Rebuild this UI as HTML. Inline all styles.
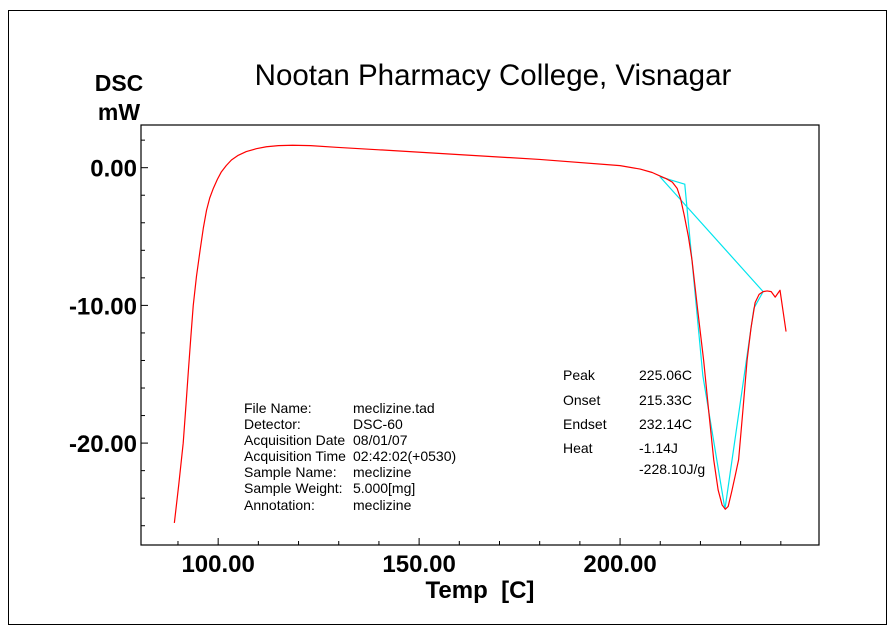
<!DOCTYPE html>
<html><head><meta charset="utf-8"><style>
body{margin:0;background:#fff;width:895px;height:630px;overflow:hidden}
svg{display:block;font-family:"Liberation Sans",sans-serif}
</style></head><body>
<svg id="chart" width="895" height="630" viewBox="0 0 895 630">
<rect x="8.5" y="10.5" width="878" height="614" fill="none" stroke="#000" stroke-width="1"/>
<text x="493" y="85" font-size="29.5" text-anchor="middle">Nootan Pharmacy College, Visnagar</text>
<text x="119" y="91" font-size="23" font-weight="bold" text-anchor="middle">DSC</text>
<text x="119" y="120" font-size="23" font-weight="bold" text-anchor="middle">mW</text>
<text x="480" y="598" font-size="24" font-weight="bold" text-anchor="middle">Temp&#160;&#160;[C]</text>
<rect x="141" y="125" width="678" height="420" fill="none" stroke="#000" stroke-width="1.2"/>
<g id="axes"></g>
<g id="series"></g>
<g font-size="14" fill="#000">
<text x="244" y="413">File Name:</text><text x="353" y="413">meclizine.tad</text>
<text x="244" y="429">Detector:</text><text x="353" y="429">DSC-60</text>
<text x="244" y="445">Acquisition Date</text><text x="353" y="445">08/01/07</text>
<text x="244" y="461">Acquisition Time</text><text x="353" y="461">02:42:02(+0530)</text>
<text x="244" y="477">Sample Name:</text><text x="353" y="477">meclizine</text>
<text x="244" y="493">Sample Weight:</text><text x="353" y="493">5.000[mg]</text>
<text x="244" y="510">Annotation:</text><text x="353" y="510">meclizine</text>
</g>
<g font-size="14" fill="#000">
<text x="563" y="380">Peak</text><text x="639" y="380">225.06C</text>
<text x="563" y="405">Onset</text><text x="639" y="405">215.33C</text>
<text x="563" y="429">Endset</text><text x="639" y="429">232.14C</text>
<text x="563" y="453">Heat</text><text x="639" y="453">-1.14J</text>
<text x="639" y="474">-228.10J/g</text>
</g>
</svg>
<script>
const xTicks=[100,150,200];
const xTickLabels=["100.00","150.00","200.00"];
const yTicks=[0,-10,-20];
const yTickLabels=["0.00","-10.00","-20.00"];
const dscTemp=[89.1,90.2,91.3,92.0,92.6,93.2,93.8,94.6,95.5,96.3,97.1,97.9,98.8,99.8,100.8,102,103.3,105,107,109.5,112,115,118.5,123,129.4,140,160,180,200,205,208,209.9,211.5,213,214.2,215.1,216,217,217.9,219.3,220.8,222.1,223.3,224.4,225.4,226.2,226.9,227.8,228.7,229.5,230.6,231.6,232.6,233.6,234.6,235.6,236.6,237.6,238.6,239.8,240.6,241.3];
const dscValue=[-25.8,-23.0,-20.0,-17.2,-14.7,-12.3,-10.0,-7.9,-6.0,-4.4,-3.1,-2.2,-1.5,-0.85,-0.3,0.15,0.56,0.9,1.17,1.38,1.52,1.6,1.63,1.6,1.48,1.3,0.95,0.6,0.15,-0.1,-0.35,-0.6,-0.8,-1.05,-1.5,-2.3,-3.5,-5.0,-6.7,-10.3,-14,-17.8,-21.2,-23.4,-24.5,-24.8,-24.6,-23.5,-22.3,-21.2,-17.5,-14,-11.6,-9.8,-9.2,-9.0,-8.95,-9.0,-9.4,-8.9,-10.5,-11.9];
const baseTemp=[209.9,216.1,220.6,226.1,233.3,235.6,209.9];
const baseValue=[-0.65,-1.2,-15.1,-24.8,-10.2,-9.0,-0.65];
const X0=141,X1=819,T0=80.8,T1=249.5,Y0=125,Y1=545,V0=3.1,V1=-27.4;
const sx=t=>X0+(t-T0)/(T1-T0)*(X1-X0);
const sy=v=>Y0+(v-V0)/(V1-V0)*(Y1-Y0);
const NS="http://www.w3.org/2000/svg";
const axes=document.getElementById('axes'),ser=document.getElementById('series');
function mk(tag,attrs,parent){const e=document.createElementNS(NS,tag);for(const k in attrs)e.setAttribute(k,attrs[k]);parent.appendChild(e);return e;}
for(let t=90;t<=240;t+=10){const maj=t%50===0;const l=mk('line',{x1:sx(t),x2:sx(t),y1:Y1,y2:Y1-(maj?7:4),stroke:'#000'},axes);

}
xTicks.forEach((t,i)=>{const e=mk('text',{x:sx(t),y:572,'font-size':24,'font-weight':'bold','text-anchor':'middle'},axes);e.textContent=xTickLabels[i];

});
for(let v=2;v>=-26;v-=2){const maj=v%10===0;const l=mk('line',{x1:X0,x2:X0+(maj?7:4),y1:sy(v),y2:sy(v),stroke:'#000'},axes);

}
yTicks.forEach((v,i)=>{const e=mk('text',{x:137,y:sy(v)+9,'font-size':24,'font-weight':'bold','text-anchor':'end'},axes);e.textContent=yTickLabels[i];

});
const p1=mk('polyline',{points:baseTemp.map((t,i)=>sx(t)+','+sy(baseValue[i])).join(' '),fill:'none',stroke:'#00e5ee','stroke-width':1.2},ser);


const p2=mk('polyline',{points:dscTemp.map((t,i)=>sx(t)+','+sy(dscValue[i])).join(' '),fill:'none',stroke:'#ff0000','stroke-width':1.2,'stroke-linejoin':'round'},ser);


</script>
</body></html>
